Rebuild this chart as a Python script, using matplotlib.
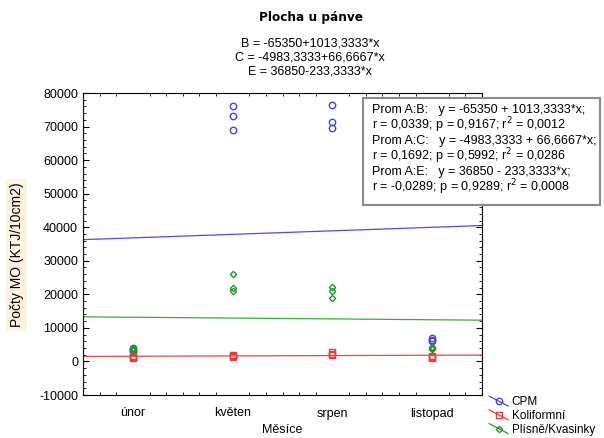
import matplotlib.pyplot as plt
from matplotlib.ticker import MultipleLocator
from matplotlib.legend_handler import HandlerBase
from matplotlib.lines import Line2D
from matplotlib.patches import Rectangle
import numpy as np

plt.rcParams['font.family'] = ['Liberation Sans', 'DejaVu Sans']
plt.rcParams['axes.unicode_minus'] = False

mesice = ['únor', 'květen', 'srpen', 'listopad']

# three replicates per month
cpm = [[3500, 3000, 4000], [76000, 73000, 69000], [76500, 71500, 69500], [7000, 6500, 6000]]
koliform = [[1000, 1300, 1600], [1200, 1600, 2000], [1800, 2300, 2800], [1100, 1300, 1500]]
plisne = [[3700, 4000, 3500], [26000, 22000, 21000], [22200, 21000, 19000], [4000, 3600, 4300]]

# fitted lines, values at the left and right edge of the plot
fit_x = [0.5, 4.5]
fit_cpm = [36300, 40500]
fit_koliform = [1500, 1900]
fit_plisne = [13300, 12300]

rovnice = ['B = -65350+1013,3333*x', 'C = -4983,3333+66,6667*x', 'E = 36850-233,3333*x']
stat_radky = ['Prom A:B:   y = -65350 + 1013,3333*x;',
              'r = 0,0339; p = 0,9167; r$^2$ = 0,0012',
              'Prom A:C:   y = -4983,3333 + 66,6667*x;',
              'r = 0,1692; p = 0,5992; r$^2$ = 0,0286',
              'Prom A:E:   y = 36850 - 233,3333*x;',
              'r = -0,0289; p = 0,9289; r$^2$ = 0,0008']

W, H = 604, 438
fig = plt.figure(figsize=(W / 100, H / 100), dpi=100)
ax = fig.add_axes([83 / W, 1 - 395 / H, (482 - 83) / W, (395 - 93) / H])

x = np.arange(1, 5)
barvy = {'CPM': '#4646dc', 'Koliformní': '#e83a3e', 'Plísně/Kvasinky': '#1f9a2a'}
znacky = {'CPM': ('o', 4.6), 'Koliformní': ('s', 5), 'Plísně/Kvasinky': ('D', 3.2)}

def body(data, label):
    xs = np.repeat(x, 3)
    ys = np.array(data).ravel()
    m, ms = znacky[label]
    ax.plot(xs, ys, linestyle='none', marker=m, ms=ms, mfc='none',
            mec=barvy[label], mew=1.0)

body(cpm, 'CPM')
body(koliform, 'Koliformní')
body(plisne, 'Plísně/Kvasinky')

ax.plot(fit_x, fit_cpm, color='#4a4af5', lw=0.9)
ax.plot(fit_x, fit_koliform, color='#f04545', lw=0.9)
ax.plot(fit_x, fit_plisne, color='#35b035', lw=0.9)

ax.set_xlim(0.5, 4.5)
ax.set_ylim(-10000, 80000)
ax.set_xticks(x)
ax.set_xticklabels(mesice, fontsize=9)
ax.xaxis.set_minor_locator(MultipleLocator(1 / 6))
ax.yaxis.set_major_locator(MultipleLocator(10000))
ax.yaxis.set_minor_locator(MultipleLocator(2000))
ax.tick_params(which='both', direction='in', top=True, right=True, labelsize=9)
ax.tick_params(which='major', length=4)
ax.tick_params(which='minor', length=2)
ax.tick_params(axis='x', which='major', length=0, pad=9)
ax.set_xlabel('Měsíce', fontsize=9, labelpad=3)
ax.set_ylabel('Počty MO (KTJ/10cm2)', fontsize=10,
              bbox=dict(facecolor='#fdf3e3', edgecolor='none', pad=2.5))
ax.yaxis.set_label_coords(-0.148, (395 - 255) / (395 - 93))

fig.text(311 / W, 1 - 17 / H, 'Plocha u pánve', ha='center', va='center',
         fontsize=8.7, fontweight='bold', family='DejaVu Sans')
for i, r in enumerate(rovnice):
    fig.text(310 / W, 1 - (43 + 14.5 * i) / H, r, ha='center', va='center', fontsize=9)

# statistics box
fig.add_artist(Rectangle((363 / W, 1 - 205 / H), (600 - 363) / W, (205 - 98) / H,
                         transform=fig.transFigure, facecolor='white',
                         edgecolor='#8a8a8a', lw=1.5))
for i, r in enumerate(stat_radky):
    fig.text(372 / W, 1 - (110 + 15.4 * i) / H, r, ha='left', va='center', fontsize=9)


class DiagHandler(HandlerBase):
    def create_artists(self, legend, orig, xd, yd, w, h, fs, trans):
        c = orig.get_color()
        ln = Line2D([xd, xd + w], [yd + h * 1.1, yd - h * 0.1], color=c, lw=0.9)
        mk = Line2D([xd + w / 2], [yd + h / 2], marker=orig.get_marker(),
                    ms=orig.get_markersize(), mfc='none', mec=c, mew=1.0, ls='none')
        for a in (ln, mk):
            a.set_transform(trans)
        return [ln, mk]


handles = []
for lab in barvy:
    m, ms = znacky[lab]
    handles.append(Line2D([], [], color=barvy[lab], marker=m, ms=ms))
fig.legend(handles, list(barvy), handler_map={Line2D: DiagHandler()},
           loc='upper left', bbox_to_anchor=(488 / W, 1 - 395 / H), frameon=False,
           fontsize=8.5, handlelength=1.6, borderpad=0.1, labelspacing=0.15,
           handletextpad=0.3, borderaxespad=0)

fig.savefig('out.png', dpi=100)
